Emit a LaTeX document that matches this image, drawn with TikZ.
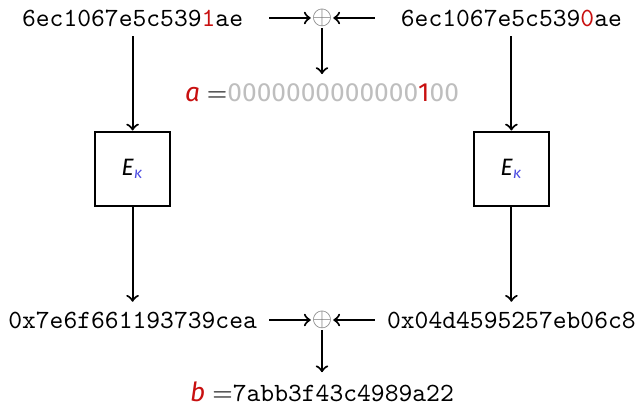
\documentclass[tikz,border=0pt]{standalone}
\usepackage{fontspec}
\setmainfont{Fira Sans}
\usepackage{xcolor}
\definecolor{flip}{RGB}{200,16,16}
\definecolor{keyblue}{RGB}{75,75,225}
\definecolor{zeros}{RGB}{190,190,190}
\definecolor{xorgray}{RGB}{120,120,120}

\begin{document}
\begin{tikzpicture}[node distance={72pt}, thick,
		cipher/.style={draw, rectangle, minimum size=1cm},
		xor/.style={inner sep=0pt, text=xorgray}]
		\useasboundingbox (-122.4pt,6.84pt) rectangle (120.5pt,-147.8pt);
		\node[xor] (2) at (0,0) {$\oplus$};
		\node (1) [left of=2] {\ttfamily 6ec1067e5c539\textcolor{flip}{1}ae};
		\node (3) [right of=2] {\ttfamily 6ec1067e5c539\textcolor{flip}{0}ae};
		\node (4) [below of=2, node distance=28.5pt] {\textcolor{flip}{\textit{a}} $=$\textcolor{zeros}{0000000000000\textcolor{flip}{1}00}};
		\node[cipher] (5) [below of=1, node distance=57.4pt] {\small\textit{E\textsubscript{\textcolor{keyblue}{κ}}}};
		\node[cipher] (6) [below of=3, node distance=57.4pt] {\small\textit{E\textsubscript{\textcolor{keyblue}{κ}}}};
		\node (7) [below of=5, node distance=57.4pt] {\ttfamily 0x7e6f661193739cea};
		\node[xor] (8) [right of=7] {$\oplus$};
		\node (9) [right of=8] {\ttfamily 0x04d4595257eb06c8};
		\node (10) [below of=8, node distance=27.4pt] {\textcolor{flip}{\textit{b}} $=$\texttt{7abb3f43c4989a22}};
		\path (2) ++(-20pt,0) coordinate (2l) (2) ++(20pt,0) coordinate (2r);
		\path (8) ++(-20pt,0) coordinate (8l) (8) ++(20pt,0) coordinate (8r);
		\draw[->] (2l) -- (2);
		\draw[->] (2r) -- (2);
		\draw[->] (2) -- (4);
		\draw[->] (1) -- (5);
		\draw[->] (3) -- (6);
		\draw[->] (5) -- (7);
		\draw[->] (6) -- (9);
		\draw[->] (8l) -- (8);
		\draw[->] (8r) -- (8);
		\draw[->] (8) -- (10);
	\end{tikzpicture}
\end{document}
